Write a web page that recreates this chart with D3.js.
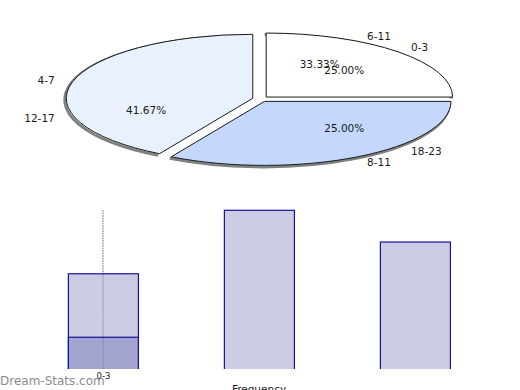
<!DOCTYPE html>
<html>
<head>
<meta charset="utf-8">
<script src="https://cdn.jsdelivr.net/npm/d3@7"></script>
<style>
  body { margin: 0; background: #fff; }
  svg { display: block; font-family: "DejaVu Sans", sans-serif; }
</style>
</head>
<body>
<svg id="chart" width="520" height="390"></svg>
<script>
// data
var ageGroups = ['0-3', '4-7', '8-11'];
var ageCounts = [3, 5, 4];
var hourGroups = ['6-11', '12-17', '18-23'];
var hourCounts = [4, 5, 3];
var highlightCounts = [1, 0, 0];
var barTickLabels = ['0-3'];
var xTitle = 'Frequency';
var watermark = 'Dream-Stats.com';

var svg = d3.select('#chart');
svg.append('rect').attr('width', 520).attr('height', 390).attr('fill', '#fff');

// ---- pie (elliptical, exploded) ----
var cx = 260.5, cy = 99, rx = 186.5, ry = 64;
var explode = 8;
var color = d3.scaleOrdinal().domain(ageGroups).range(['#ffffff', '#eaf1fe', '#c4d8fe']);

// counter-clockwise from 3 o'clock
var pie = d3.pie().sort(null)
  .startAngle(Math.PI / 2)
  .endAngle(Math.PI / 2 - 2 * Math.PI);

var arcsA = pie(ageCounts);
arcsA.forEach(function (a, i) { a.key = ageGroups[i]; });
var arcsB = pie(hourCounts);
arcsB.forEach(function (a, i) { a.key = hourGroups[i]; });

function pt(a, fx, fy) {
  return [cx + fx * Math.sin(a), cy - fy * Math.cos(a)];
}
function mid(a) { return (a.startAngle + a.endAngle) / 2; }

function slicePath(a) {
  var p0 = pt(a.startAngle, rx, ry);
  var p1 = pt(a.endAngle, rx, ry);
  var large = Math.abs(a.endAngle - a.startAngle) > Math.PI ? 1 : 0;
  return 'M' + cx + ',' + cy + 'L' + p0[0] + ',' + p0[1] +
    'A' + rx + ',' + ry + ' 0 ' + large + ' 0 ' + p1[0] + ',' + p1[1] + 'Z';
}
function rimPath(a) {
  var p0 = pt(a.startAngle, rx, ry);
  var p1 = pt(a.endAngle, rx, ry);
  var large = Math.abs(a.endAngle - a.startAngle) > Math.PI ? 1 : 0;
  return 'M' + p0[0] + ',' + p0[1] +
    'A' + rx + ',' + ry + ' 0 ' + large + ' 0 ' + p1[0] + ',' + p1[1];
}
function offset(a) {
  var m = mid(a);
  return [explode * Math.sin(m), -explode * Math.cos(m) * ry / rx];
}

var pieG = svg.append('g');

// soft shadow along the outer rim only
pieG.selectAll('path.shadow')
  .data(arcsA)
  .enter().append('path')
  .attr('class', 'shadow')
  .attr('d', rimPath)
  .attr('transform', function (d) { var o = offset(d); return 'translate(' + (o[0] - 1.5) + ',' + (o[1] + 1.5) + ')'; })
  .attr('fill', 'none')
  .attr('stroke', '#808080')
  .attr('stroke-width', 3);

pieG.selectAll('path.slice')
  .data(arcsA)
  .enter().append('path')
  .attr('class', 'slice')
  .attr('d', slicePath)
  .attr('transform', function (d) { var o = offset(d); return 'translate(' + o[0] + ',' + o[1] + ')'; })
  .attr('fill', function (d) { return color(d.key); })
  .attr('stroke', '#1a1a1a')
  .attr('stroke-width', 1);

var allLabels = arcsA.concat(arcsB);

// category labels around the ellipse
pieG.selectAll('text.cat')
  .data(allLabels)
  .enter().append('text')
  .attr('class', 'cat')
  .attr('x', function (d) { return pt(mid(d), 213, 73)[0]; })
  .attr('y', function (d) { return pt(mid(d), 213, 73)[1] + 4; })
  .attr('text-anchor', function (d) { return Math.sin(mid(d)) >= 0 ? 'start' : 'end'; })
  .attr('font-size', '10.5px')
  .attr('fill', '#1a1a1a')
  .text(function (d) { return d.key; });

// percentage labels (only the first age slice label is visible in the original)
var total = d3.sum(hourCounts);
var pctLabels = arcsA.slice(0, 1).concat(arcsB);
pieG.selectAll('text.pct')
  .data(pctLabels)
  .enter().append('text')
  .attr('class', 'pct')
  .attr('x', function (d) { return pt(mid(d), rx * 0.635, ry * 0.635)[0]; })
  .attr('y', function (d) { return pt(mid(d), rx * 0.635, ry * 0.635)[1] + 4; })
  .attr('text-anchor', 'middle')
  .attr('font-size', '10.5px')
  .attr('fill', '#1a1a1a')
  .text(function (d) { return (d.value / total * 100).toFixed(2) + '%'; });

// ---- bar chart ----
var x = d3.scaleBand().domain(ageGroups)
  .range([25.4, 493.4]).paddingInner(0.551).paddingOuter(0.2756);
var y = d3.scaleLinear().domain([0, 5]).range([369, 210.3]);

svg.append('clipPath').attr('id', 'plotclip')
  .append('rect').attr('x', 0).attr('y', 200).attr('width', 520).attr('height', 169);

var plot = svg.append('g').attr('clip-path', 'url(#plotclip)');

var gx = Math.round(x('0-3') + x.bandwidth() / 2);
plot.append('line')
  .attr('x1', gx).attr('x2', gx)
  .attr('y1', y(5)).attr('y2', y(0) + 2)
  .attr('stroke', '#a0a0a0')
  .attr('stroke-width', 1.6)
  .attr('stroke-dasharray', '1.5,1');

plot.selectAll('rect.bar')
  .data(ageCounts)
  .enter().append('rect')
  .attr('class', 'bar')
  .attr('x', function (d, i) { return x(ageGroups[i]); })
  .attr('y', function (d) { return y(d); })
  .attr('width', x.bandwidth())
  .attr('height', function (d) { return y(0) - y(d) + 3; })
  .attr('fill', 'rgba(153,153,204,0.5)')
  .attr('stroke', '#12129a')
  .attr('stroke-width', 1.2);

plot.selectAll('rect.hl')
  .data(highlightCounts.filter(function (d) { return d > 0; }))
  .enter().append('rect')
  .attr('class', 'hl')
  .attr('x', function (d, i) { return x(ageGroups[i]); })
  .attr('y', function (d) { return y(d); })
  .attr('width', x.bandwidth())
  .attr('height', function (d) { return y(0) - y(d) + 3; })
  .attr('fill', 'rgba(122,122,188,0.5)')
  .attr('stroke', '#12129a')
  .attr('stroke-width', 1.2);

var xAxis = d3.axisBottom(x).tickValues(barTickLabels).tickSize(0).tickPadding(4);
var axG = svg.append('g').attr('transform', 'translate(0,' + y(0) + ')').call(xAxis);
axG.select('.domain').remove();
axG.selectAll('text').attr('font-size', '8.5px').attr('font-family', '"DejaVu Sans", sans-serif').attr('fill', '#222');

svg.append('text')
  .attr('x', 0).attr('y', 385)
  .attr('font-size', '12px')
  .attr('fill', '#8c8c8c')
  .text(watermark);

svg.append('text')
  .attr('x', 259).attr('y', 393)
  .attr('text-anchor', 'middle')
  .attr('font-size', '10.5px')
  .attr('fill', '#1a1a1a')
  .text(xTitle);
</script>
</body>
</html>
